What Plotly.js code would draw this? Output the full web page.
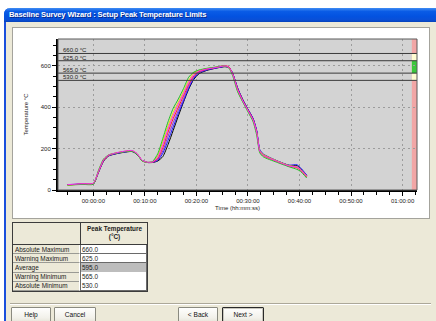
<!DOCTYPE html>
<html><head><meta charset="utf-8">
<script src="https://cdn.plot.ly/plotly-3.0.1.min.js"></script>
<style>
html,body{margin:0;padding:0}
body{width:436px;height:321px;overflow:hidden;background:#fff;position:relative;font-family:"Liberation Sans",Arial,sans-serif}
#frame{position:absolute;left:4px;top:8px;width:432px;height:313px;background:#ece9d8;border-left:2px solid #1a4fdc;box-sizing:border-box;border-top-left-radius:6px}
#titlebar{position:absolute;left:4px;top:8px;width:432px;height:14px;border-top-left-radius:6px;
 background:linear-gradient(#3f8cf3 0%,#0a5ce6 25%,#0352e0 60%,#0a4fd6 85%,#0843b8 100%)}
#titletext{position:absolute;left:9px;top:8px;height:14px;line-height:14px;color:#fff;font-weight:bold;font-size:7.6px;letter-spacing:-0.15px;white-space:nowrap;text-shadow:1px 1px 0 #0a2a8a}
#panel{position:absolute;left:12px;top:27px;width:418px;height:192px;background:#fff;border:1px solid #a4a39c;box-sizing:border-box}
#plot{position:absolute;left:13px;top:28px;width:416px;height:189px}
.cell{position:absolute;box-sizing:border-box;font-size:6.4px;color:#1a1a1a;white-space:nowrap;overflow:hidden}
#sep{position:absolute;left:10px;top:303px;width:421px;height:0;border-top:1px solid #aca899;border-bottom:1px solid #fff}
.btn{position:absolute;top:307px;height:16px;box-sizing:border-box;border:1px solid #8a8a80;border-radius:1px;background:linear-gradient(#fefefd,#f2f1ea 70%,#e6e4d8);font-size:6.6px;color:#111;text-align:center;line-height:13px}
</style></head>
<body>
<div id="frame"></div>
<div id="titlebar"></div>
<div id="titletext">Baseline Survey Wizard : Setup Peak Temperature Limits</div>
<div id="panel"></div>
<div id="plot"></div>
<div id="tbl"></div>
<div id="sep"></div>
<div id="btns"></div>
<script>
// ---------- data ----------
const timeMin = [-5, -2, 0, 1, 2, 3, 5, 7.5, 8.5, 9.5, 10.5, 11.5, 12.5, 13.5, 14.5, 15.5, 16.5, 17.5, 18.5, 19.5, 20.5, 22, 24, 25.5, 26.3, 27, 28, 29, 30, 31, 31.7, 32.3, 33, 35.5, 38, 39.5, 40.2, 41.4];
const tcGreen   = [24,27,28,95,150,170,181,188,172,140, 133,138,175,250,330,395,440,490,545,570, 580,588,595,600,590,555,475,425,378,330, 265,180,160,135,112,100,90,58];
const tcYellow  = [24,28,30,92,148,170,182,189,174,141, 134,137,165,235,310,375,425,475,530,565, 578,587,594,599,592,560,480,428,382,335, 275,190,172,142,118,112,100,68];
const tcMagenta = [26,30,32,90,146,169,183,191,176,143, 134,136,158,220,295,360,415,465,520,558, 575,585,593,600,593,562,485,430,384,338, 278,188,168,140,116,110,98,66];
const tcRed     = [25,29,31,88,144,168,182,190,175,142, 133,135,152,205,280,345,400,455,510,552, 572,584,594,602,595,563,487,432,386,340, 280,185,166,139,115,108,96,64];
const tcPurple  = [25,28,30,87,143,167,180,188,174,142, 133,134,147,190,260,325,385,440,500,545, 568,582,592,599,594,565,490,434,388,343, 283,190,170,141,117,112,102,70];
const tcBlue    = [26,29,30,86,142,166,179,187,173,142, 134,134,143,178,240,305,370,430,492,540, 565,580,591,597,593,566,492,436,390,346, 288,195,174,143,120,122,108,72];
const tcBlack   = [25,28,29,85,140,165,178,186,172,142, 133,133,140,162,220,288,358,425,487,535, 562,578,590,596,592,566,493,437,390,345, 285,192,172,142,119,118,104,70];

const xTickVals = [0, 10, 20, 30, 40, 50, 60];
const xTickText = ['00:00:00', '00:10:00', '00:20:00', '00:30:00', '00:40:00', '00:50:00', '01:00:00'];
const yTickVals = [0, 200, 400, 600];

const limitNames  = ['Absolute Maximum', 'Warning Maximum', 'Average', 'Warning Minimum', 'Absolute Minimum'];
const limitValues = [660.0, 625.0, 595.0, 565.0, 530.0];
const buttonLabels = ['Help', 'Cancel', '< Back', 'Next >'];

// ---------- styles ----------
const seriesList = [
  {y: tcBlack,   color: '#000000'},
  {y: tcBlue,    color: '#1a1aff'},
  {y: tcPurple,  color: '#8a2be2'},
  {y: tcRed,     color: '#ff2020'},
  {y: tcYellow,  color: '#e8e000'},
  {y: tcGreen,   color: '#20c020'},
  {y: tcMagenta, color: '#ff20ff'}
];
const FONT = 'Liberation Sans, Arial, sans-serif';
const yMax = 730, xMin = -6.85, xMax = 62.8, stripX0 = 61.8;

const traces = seriesList.map(s => ({
  type: 'scatter', mode: 'lines', x: timeMin, y: s.y,
  line: {color: s.color, width: 1, shape: 'spline', smoothing: 0.6},
  hoverinfo: 'skip'
}));

const absMax = limitValues[0], warnMax = limitValues[1], warnMin = limitValues[3], absMin = limitValues[4];
const shapes = [
  {type:'rect', xref:'x', yref:'y', x0:stripX0, x1:xMax, y0:0, y1:yMax, fillcolor:'#f2a6a6', line:{width:0}, layer:'below'},
  {type:'rect', xref:'x', yref:'y', x0:stripX0, x1:xMax, y0:absMin, y1:absMax, fillcolor:'#fffcd2', line:{width:0}, layer:'below'},
  {type:'rect', xref:'x', yref:'y', x0:stripX0, x1:xMax, y0:warnMin, y1:warnMax, fillcolor:'#3cc83c', line:{width:0}, layer:'below'}
];
const annotations = [];
[absMax, warnMax, warnMin, absMin].forEach(v => {
  shapes.push({type:'line', xref:'paper', yref:'y', x0:0, x1:1, y0:v, y1:v, line:{color:'#3a3a3a', width:1}});
  annotations.push({xref:'paper', yref:'y', x:0, y:v, xanchor:'left', yanchor:'bottom', xshift:4, yshift:-1,
    text: v.toFixed(1) + ' °C', showarrow:false, font:{family:FONT, size:6, color:'#222'}, borderpad:0});
});
shapes.push({type:'rect', xref:'paper', yref:'paper', x0:0, x1:1, y0:0, y1:1, line:{color:'#5a5a5a', width:1}});

const layout = {
  width: 416, height: 189,
  margin: {l:45, r:12, t:11, b:27, pad:0},
  paper_bgcolor: '#ffffff', plot_bgcolor: '#d3d3d3',
  showlegend: false,
  font: {family: FONT, size: 6, color: '#222'},
  xaxis: {
    range: [xMin, xMax], tickmode: 'array', tickvals: xTickVals, ticktext: xTickText,
    ticks: 'outside', ticklen: 4, tickwidth: 1, tickcolor: '#000',
    showline: true, linewidth: 2, linecolor: '#000', zeroline: false,
    showgrid: true, gridcolor: '#9c9c9c', gridwidth: 1, griddash: '2px,3px',
    minor: {tick0: 0, dtick: 2.5, ticks: 'outside', ticklen: 3, tickwidth: 1, tickcolor: '#000', showgrid: false},
    tickfont: {family: FONT, size: 6, color: '#222'},
    title: {text: 'Time (hh:mm:ss)', font: {family: FONT, size: 6, color: '#222'}, standoff: 3},
    fixedrange: true
  },
  yaxis: {
    range: [0, yMax], tickmode: 'array', tickvals: yTickVals,
    ticks: 'outside', ticklen: 4, tickwidth: 1, tickcolor: '#000',
    showline: true, linewidth: 2, linecolor: '#000', zeroline: false,
    showgrid: true, gridcolor: '#9c9c9c', gridwidth: 1, griddash: '2px,3px',
    minor: {tick0: 0, dtick: 50, ticks: 'outside', ticklen: 3, tickwidth: 1, tickcolor: '#000', showgrid: false},
    tickfont: {family: FONT, size: 6, color: '#222'},
    title: {text: 'Temperature °C', font: {family: FONT, size: 6, color: '#222'}, standoff: 12},
    fixedrange: true
  },
  shapes: shapes, annotations: annotations
};
Plotly.newPlot('plot', traces, layout, {displayModeBar: false, staticPlot: true});

// ---------- table ----------
(function(){
  const tbl = document.getElementById('tbl');
  const L = 12, T = 222, W1 = 68, W2 = 68, HH = 22.5, RH = 9.2;
  let html = '';
  html += `<div class="cell" style="left:${L}px;top:${T}px;width:${W1+W2}px;height:${HH + RH*limitNames.length + 1}px;border:1px solid #3c3c3c;background:#ece9d8"></div>`;
  html += `<div class="cell" style="left:${L+W1}px;top:${T}px;width:${W2}px;height:${HH}px;border:1px solid #3c3c3c;border-top:none;border-right:none;text-align:center;font-weight:bold;line-height:8px;padding-top:3px">Peak Temperature<br>(°C)</div>`;
  html += `<div class="cell" style="left:${L}px;top:${T}px;width:${W1+1}px;height:${HH}px;border-bottom:1px solid #3c3c3c"></div>`;
  limitNames.forEach((n, i) => {
    const top = T + HH + i*RH;
    const bg = (n === 'Average') ? '#bdbdbd' : '#ffffff';
    html += `<div class="cell" style="left:${L+1}px;top:${top}px;width:${W1-1}px;height:${RH+0.5}px;border-bottom:1px solid #9a9a94;border-right:1px solid #fff;line-height:${RH}px;padding-left:2px">${n}</div>`;
    html += `<div class="cell" style="left:${L+W1}px;top:${top}px;width:${W2-1}px;height:${RH+0.5}px;background:${bg};border:1px solid #6a6a6a;border-top:none;line-height:${RH}px;padding-left:1px">${limitValues[i].toFixed(1)}</div>`;
  });
  tbl.innerHTML = html;
})();

// ---------- buttons ----------
(function(){
  const pos = [[11,40],[54,42],[178,40],[222,42]];
  let html = '';
  buttonLabels.forEach((b, i) => {
    const extra = (i === 3) ? 'border:1px solid #2a2a2a;box-shadow:inset 0 0 0 1px #c8c6bc;' : '';
    html += `<div class="btn" style="left:${pos[i][0]}px;width:${pos[i][1]}px;${extra}">${b.replace('<','&lt;').replace('>','&gt;')}</div>`;
  });
  document.getElementById('btns').innerHTML = html;
})();
</script>
</body></html>
